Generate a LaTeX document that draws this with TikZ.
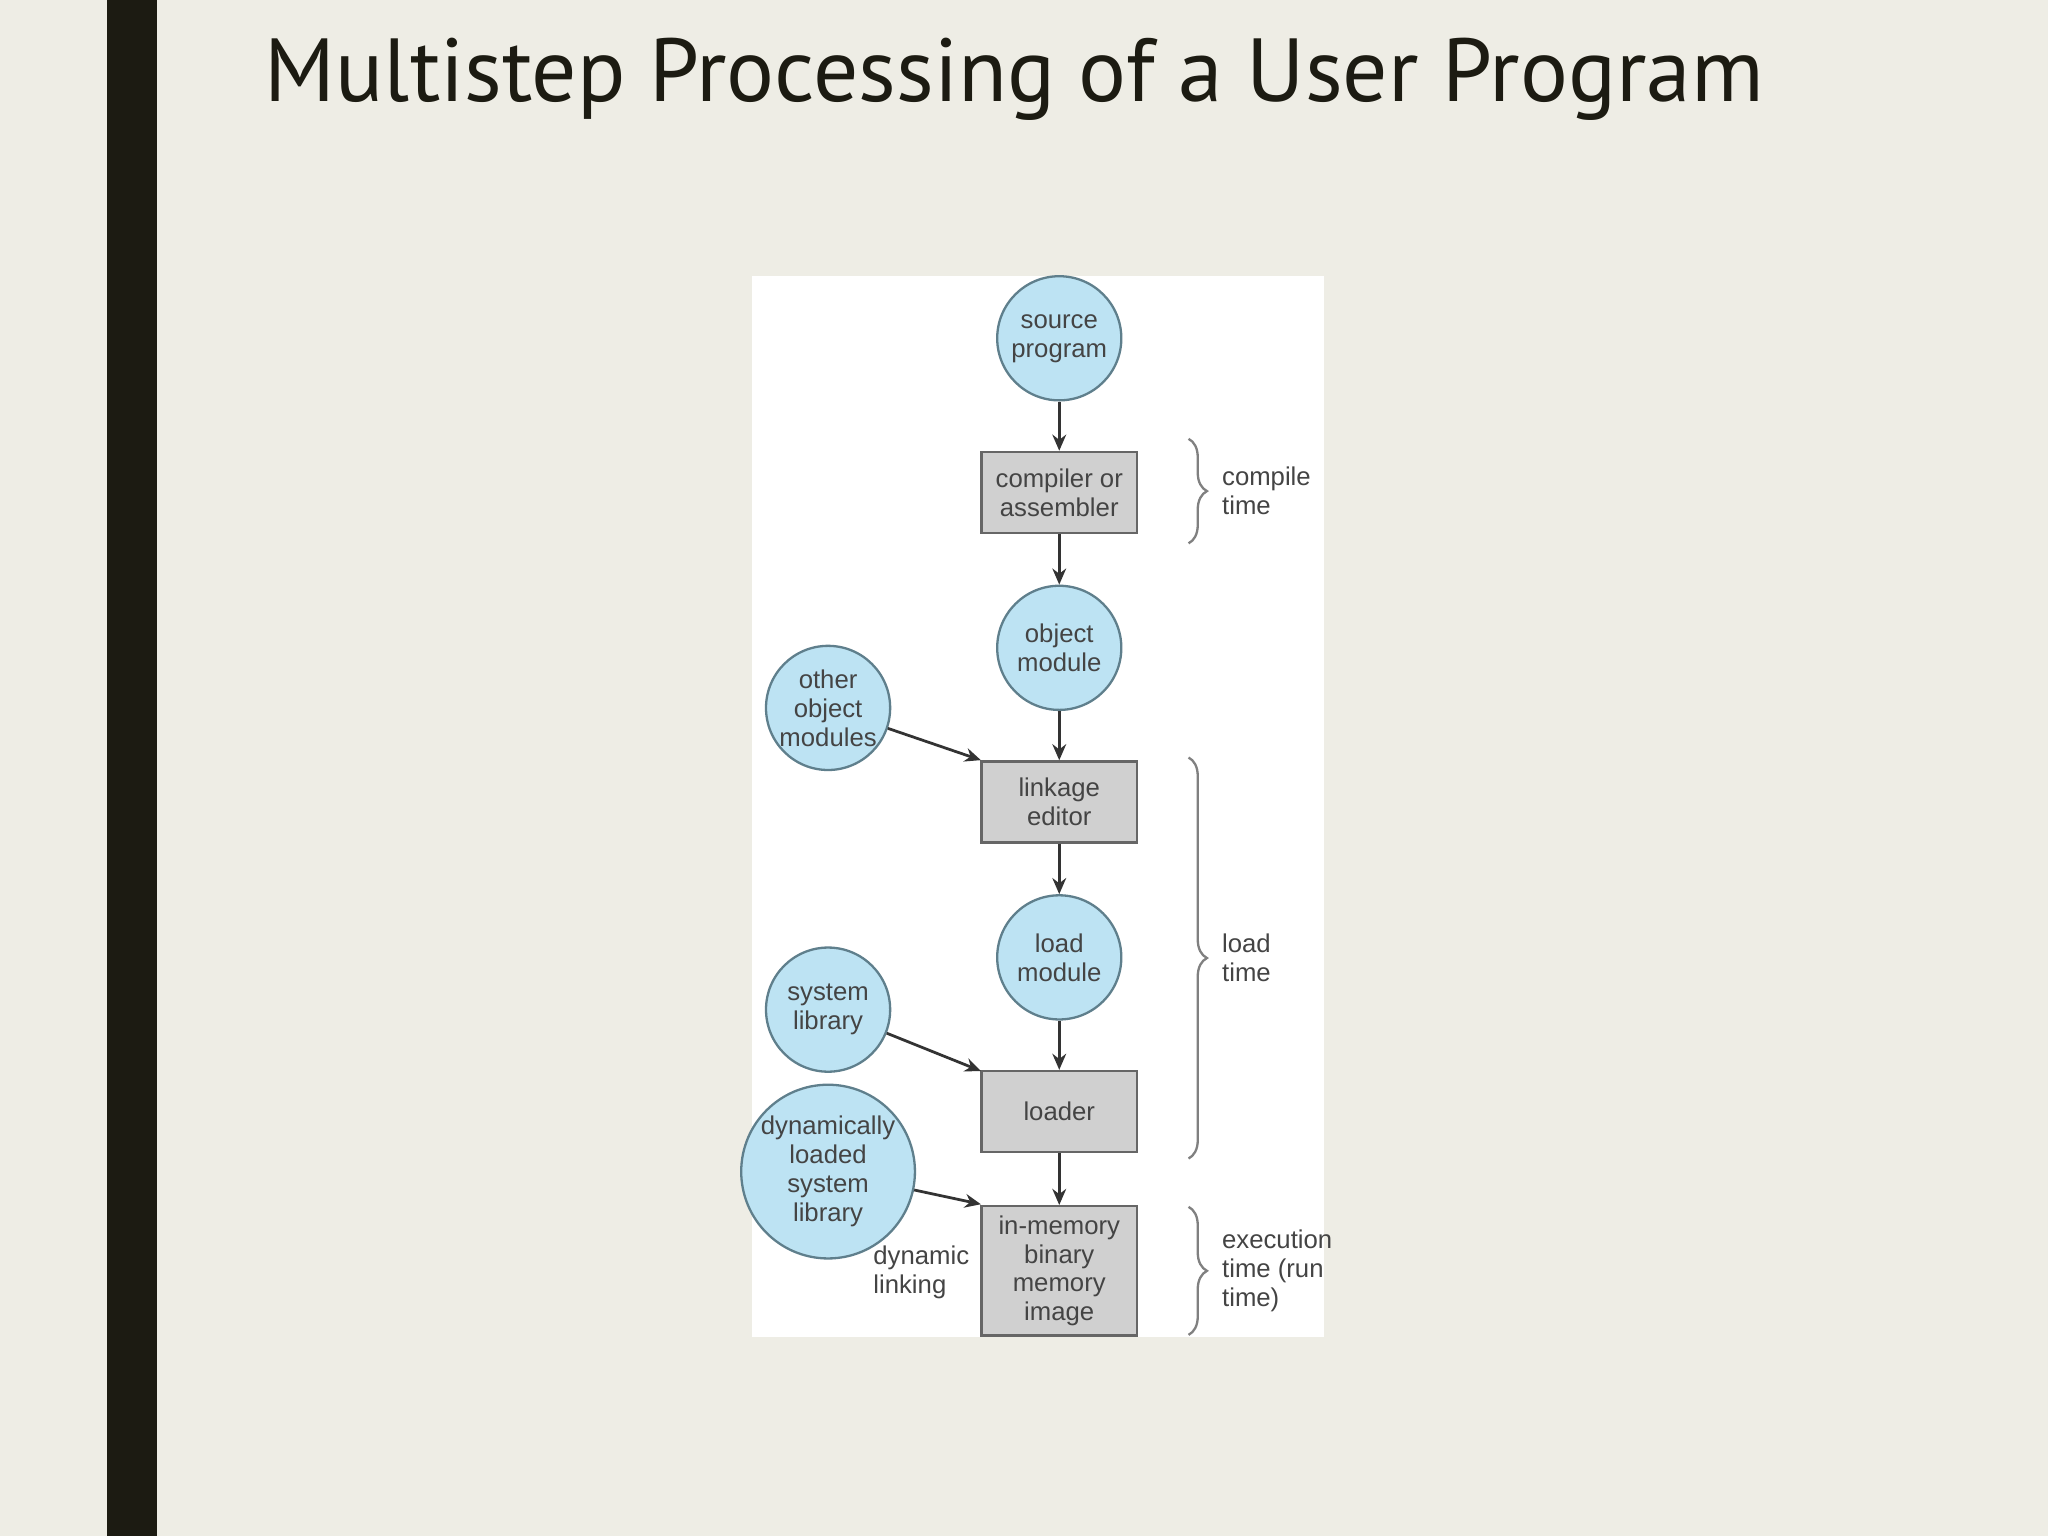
\documentclass[tikz,border=0pt]{standalone}
\usepackage{fontspec}
\setmainfont{Liberation Sans}
\newfontfamily\titlefont{PT Sans}
\usetikzlibrary{decorations.pathreplacing,arrows.meta}
\definecolor{bg}{HTML}{EEEDE5}
\definecolor{bar}{HTML}{1C1B12}
\definecolor{cfill}{HTML}{BDE3F3}
\definecolor{cdraw}{HTML}{5F7F8C}
\definecolor{bfill}{HTML}{D0D0D0}
\definecolor{tcol}{HTML}{444444}
\begin{document}
\begin{tikzpicture}[x=0.01cm,y=-0.01cm,
  circ/.style={circle,fill=cfill,draw=cdraw,line width=0.5pt,minimum size=0.95cm,inner sep=0pt,align=center,font=\fontsize{5.6}{6.3}\selectfont,text=tcol},
  bigcirc/.style={circ,minimum size=1.14cm},
  box/.style={rectangle,fill=bfill,draw=gray!80!black,line width=0.5pt,minimum width=1.19cm,minimum height=0.62cm,inner sep=0pt,align=center,font=\fontsize{5.6}{6.3}\selectfont,text=tcol},
  arr/.style={-{Stealth[length=3.5pt,width=3pt]},line width=0.6pt,draw=black!80},
  brc/.style={decorate,decoration={brace,amplitude=4pt},draw=gray,line width=0.5pt},
  lbl/.style={font=\fontsize{5.6}{6.3}\selectfont,text=tcol,align=left,anchor=west,inner sep=0pt}]
\fill[bg] (0,0) rectangle (1568,1176);
\fill[bar] (82,0) rectangle (120,1176);
\node[anchor=base west,inner sep=0pt,font=\titlefont\fontsize{19.5}{22}\selectfont,text=bar] (title) at (202,78) {Multistep Processing of a User Program};
\fill[white] (576,211) rectangle (1014,1024);
\node[circ] (src) at (811,259) {source\\program};
\node[box] (comp) at (811,377) {compiler or\\assembler};
\node[circ] (obj) at (811,496) {object\\module};
\node[circ] (oth) at (634,542) {other\\object\\modules};
\node[box] (link) at (811,614) {linkage\\editor};
\node[circ] (load) at (811,733) {load\\module};
\node[circ] (sys) at (634,773) {system\\library};
\node[box] (ldr) at (811,851) {loader};
\node[bigcirc] (dyn) at (634,897) {dynamically\\loaded\\system\\library};
\node[box,minimum height=0.99cm] (mem) at (811,973) {in-memory\\binary\\memory\\image};
\draw[arr] (src) -- (comp);
\draw[arr] (comp) -- (obj);
\draw[arr] (obj) -- (link);
\draw[arr] (link) -- (load);
\draw[arr] (load) -- (ldr);
\draw[arr] (ldr) -- (mem);
\coordinate (t1) at (751,582);
\coordinate (t2) at (751,820);
\coordinate (t3) at (751,922);
\draw[arr] (oth) -- (t1);
\draw[arr] (sys) -- (t2);
\draw[arr] (dyn) -- (t3);
\coordinate (b1a) at (910,336); \coordinate (b1b) at (910,416);
\coordinate (b2a) at (910,580); \coordinate (b2b) at (910,887);
\coordinate (b3a) at (910,924); \coordinate (b3b) at (910,1022);
\draw[brc] (b1a) -- (b1b);
\draw[brc] (b2a) -- (b2b);
\draw[brc] (b3a) -- (b3b);
\node[lbl] (l1) at (935,376) {compile\\time};
\node[lbl] (l2) at (935,733) {load\\time};
\node[lbl] (l3) at (935,973) {execution\\time (run\\time)};
\node[lbl] (dl) at (668,974) {dynamic\\linking};
\end{tikzpicture}
\end{document}
